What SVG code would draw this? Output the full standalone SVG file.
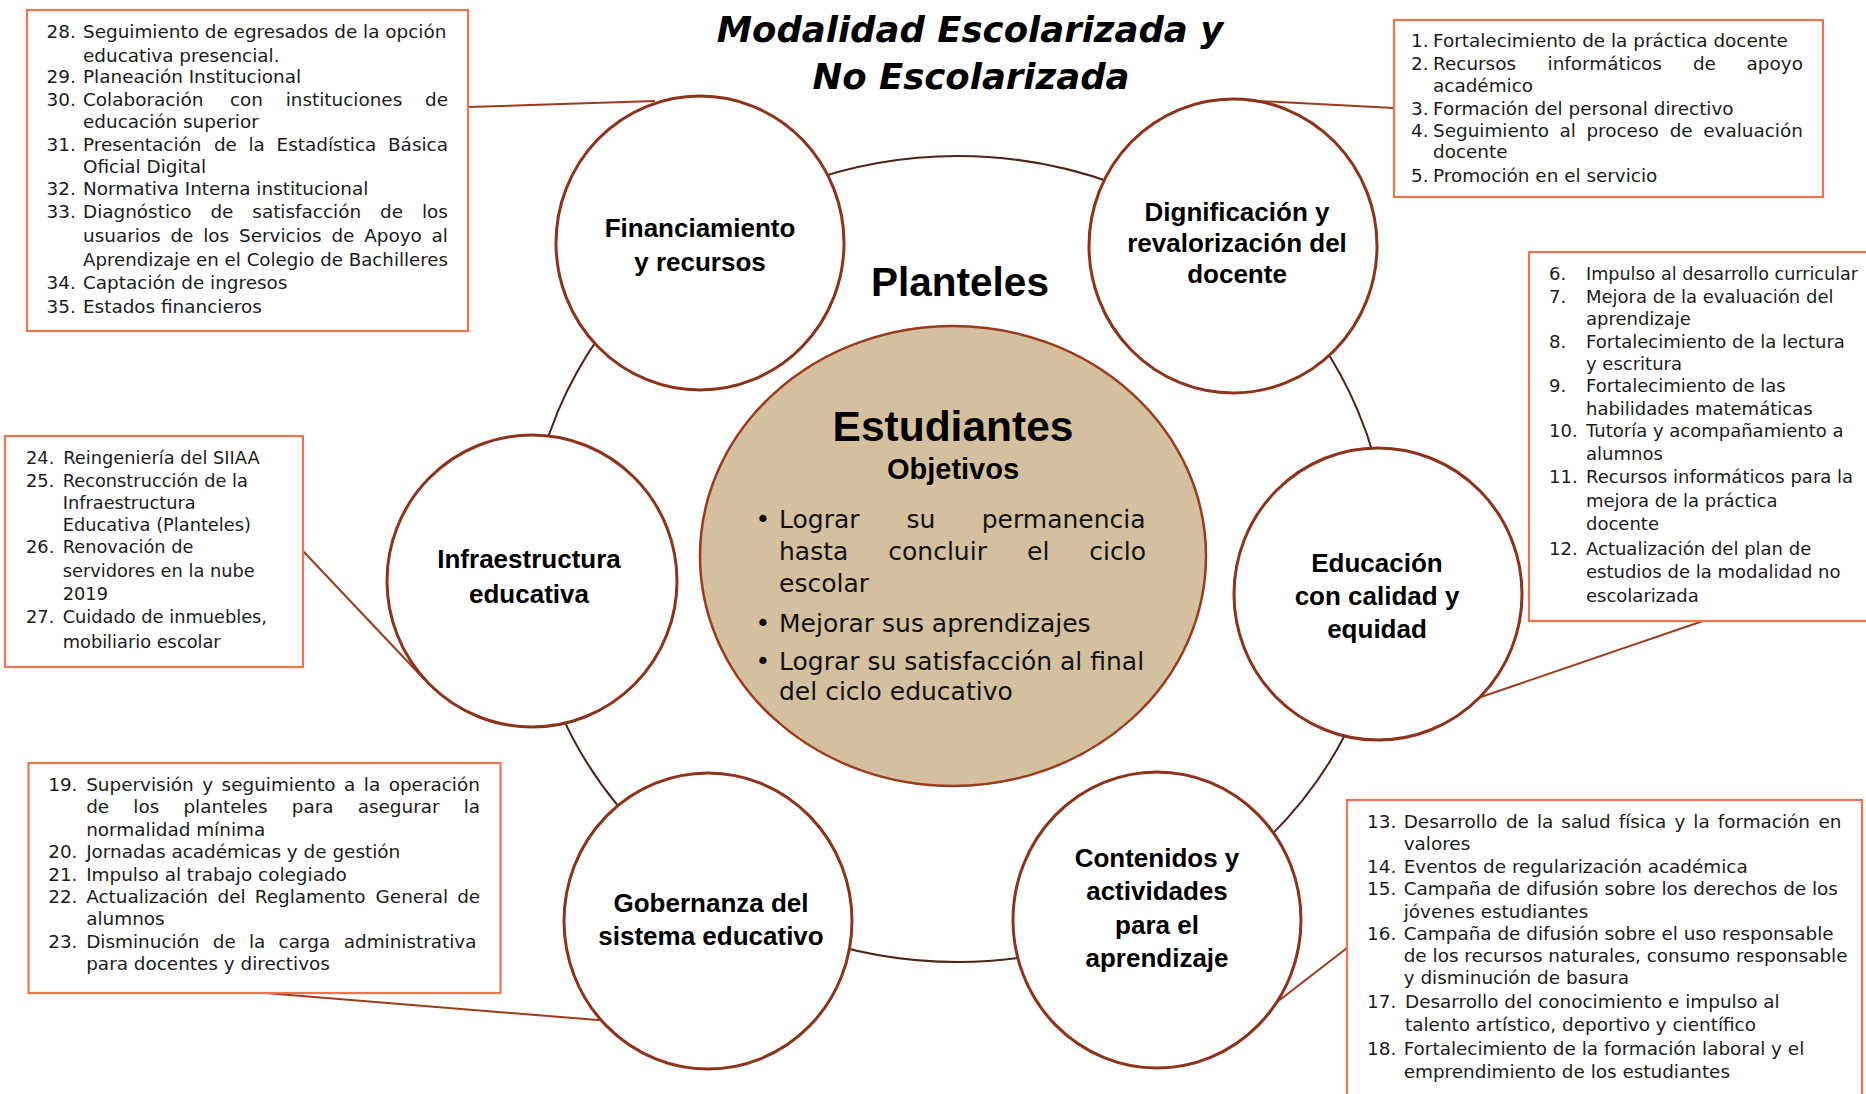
<svg xmlns="http://www.w3.org/2000/svg" width="1866" height="1094" viewBox="0 0 1866 1094">
<style>
.box{fill:#fff;stroke:#EE7450;stroke-width:2.2}
.node{fill:#fff;stroke:#8E3219;stroke-width:3}
.core{fill:#D4C09E;stroke:#9C3A1C;stroke-width:2.5}
.ring{fill:none;stroke:#4E2316;stroke-width:2}
.conn{fill:none;stroke:#9E3B1D;stroke-width:2}
.t{font-family:"DejaVu Sans",sans-serif;font-size:18.4px;fill:#1b1b1b}
.t18{font-size:18px}
.t178{font-size:17.8px}
.lbl{font-family:"Liberation Sans",Arial,sans-serif;font-weight:bold;font-size:26px;text-anchor:middle;fill:#000}
.ttl{font-family:"DejaVu Sans",sans-serif;font-weight:bold;font-style:italic;font-size:35.5px;text-anchor:middle;fill:#000}
.ctr{font-family:"DejaVu Sans",sans-serif;font-size:25px;fill:#111}
</style>
<rect width="1866" height="1094" fill="#fff"/>
<g id="title">
<text class="ttl" x="970" y="42">Modalidad Escolarizada y</text>
<text class="ttl" x="971" y="89">No Escolarizada</text>
</g>
<g id="ring"><ellipse class="ring" cx="958" cy="559" rx="430" ry="403"/></g>
<g id="connectors">
<line class="conn" x1="468" y1="107" x2="655" y2="101"/>
<line class="conn" x1="1240" y1="100" x2="1394" y2="108"/>
<line class="conn" x1="303" y1="551" x2="424" y2="679"/>
<line class="conn" x1="1703" y1="621" x2="1478" y2="698"/>
<line class="conn" x1="265" y1="993" x2="610" y2="1021"/>
<line class="conn" x1="1347" y1="948" x2="1268" y2="1009"/>
</g>
<g id="planteles-label"><text class="lbl" x="960" y="296" style="font-size:40.5px">Planteles</text></g>
<g id="node-financiamiento">
<ellipse class="node" cx="700" cy="243" rx="144" ry="147"/>
<text class="lbl" x="700" y="237">Financiamiento</text>
<text class="lbl" x="700" y="271">y recursos</text>
</g>
<g id="node-dignificacion">
<ellipse class="node" cx="1233" cy="246" rx="144" ry="147"/>
<text class="lbl" x="1237" y="221">Dignificación y</text>
<text class="lbl" x="1237" y="252">revalorización del</text>
<text class="lbl" x="1237" y="283">docente</text>
</g>
<g id="node-infraestructura">
<ellipse class="node" cx="532" cy="581" rx="145" ry="146"/>
<text class="lbl" x="529" y="568">Infraestructura</text>
<text class="lbl" x="529" y="603">educativa</text>
</g>
<g id="node-educacion">
<ellipse class="node" cx="1378" cy="594" rx="144" ry="146"/>
<text class="lbl" x="1377" y="572">Educación</text>
<text class="lbl" x="1377" y="605">con calidad y</text>
<text class="lbl" x="1377" y="638">equidad</text>
</g>
<g id="node-gobernanza">
<ellipse class="node" cx="708" cy="921" rx="144" ry="148"/>
<text class="lbl" x="711" y="912">Gobernanza del</text>
<text class="lbl" x="711" y="945">sistema educativo</text>
</g>
<g id="node-contenidos">
<ellipse class="node" cx="1157" cy="920" rx="144" ry="148"/>
<text class="lbl" x="1157" y="867">Contenidos y</text>
<text class="lbl" x="1157" y="900">actividades</text>
<text class="lbl" x="1157" y="934">para el</text>
<text class="lbl" x="1157" y="967">aprendizaje</text>
</g>
<g id="node-estudiantes">
<ellipse class="core" cx="953" cy="556" rx="253" ry="230"/>
<text class="lbl" x="953" y="441" style="font-size:42.5px">Estudiantes</text>
<text class="lbl" x="953" y="479" style="font-size:29px">Objetivos</text>
<text class="ctr"><tspan x="755.5" y="528">•</tspan><tspan x="779">Lograr</tspan><tspan x="906.4">su</tspan><tspan x="981.7">permanencia</tspan></text>
<text class="ctr"><tspan x="779" y="560">hasta</tspan><tspan x="888.3">concluir</tspan><tspan x="1027">el</tspan><tspan x="1089.3">ciclo</tspan></text>
<text class="ctr" x="779" y="592">escolar</text>
<text class="ctr"><tspan x="755.5" y="632">•</tspan><tspan x="779">Mejorar sus aprendizajes</tspan></text>
<text class="ctr"><tspan x="755.5" y="670">•</tspan><tspan x="779">Lograr su satisfacción al final</tspan></text>
<text class="ctr" x="779" y="700">del ciclo educativo</text>
</g>
<g id="box-28-35">
<rect class="box" x="27" y="10" width="441" height="321"/>
<text class="t">
<tspan x="46.6" y="38.3">28.</tspan><tspan x="83">Seguimiento de egresados de la opción</tspan>
<tspan x="83" y="61.7">educativa presencial.</tspan>
<tspan x="46.6" y="83.3">29.</tspan><tspan x="83">Planeación Institucional</tspan>
<tspan x="46.6" y="106">30.</tspan><tspan x="83">Colaboración</tspan><tspan x="229.9">con</tspan><tspan x="285.7">instituciones</tspan><tspan x="425.1">de</tspan>
<tspan x="83" y="128.3">educación superior</tspan>
<tspan x="46.6" y="151">31.</tspan><tspan x="83">Presentación</tspan><tspan x="213.9">de</tspan><tspan x="248.5">la</tspan><tspan x="276.6">Estadística</tspan><tspan x="388">Básica</tspan>
<tspan x="83" y="173.3">Oficial Digital</tspan>
<tspan x="46.6" y="195">32.</tspan><tspan x="83">Normativa Interna institucional</tspan>
<tspan x="46.6" y="218.3">33.</tspan><tspan x="83">Diagnóstico</tspan><tspan x="210.4">de</tspan><tspan x="252.3">satisfacción</tspan><tspan x="380">de</tspan><tspan x="421.9">los</tspan>
<tspan x="83" y="241.7">usuarios</tspan><tspan x="170.4">de</tspan><tspan x="203.2">los</tspan><tspan x="239">Servicios</tspan><tspan x="331.4">de</tspan><tspan x="364.2">Apoyo</tspan><tspan x="431.6">al</tspan>
<tspan x="46.6" y="288.7">34.</tspan><tspan x="83">Captación de ingresos</tspan>
<tspan x="46.6" y="312.7">35.</tspan><tspan x="83">Estados financieros</tspan>
</text>
<text class="t" x="83" y="265.7" textLength="365" lengthAdjust="spacingAndGlyphs">Aprendizaje en el Colegio de Bachilleres</text>
</g>
<g id="box-1-5">
<rect class="box" x="1394" y="20" width="429" height="177"/>
<text class="t">
<tspan x="1411" y="46.7">1.</tspan><tspan x="1433">Fortalecimiento de la práctica docente</tspan>
<tspan x="1411" y="70">2.</tspan><tspan x="1433">Recursos</tspan><tspan x="1547.6">informáticos</tspan><tspan x="1692.9">de</tspan><tspan x="1746.6">apoyo</tspan>
<tspan x="1433" y="91.7">académico</tspan>
<tspan x="1411" y="115">3.</tspan><tspan x="1433">Formación del personal directivo</tspan>
<tspan x="1411" y="136.7">4.</tspan><tspan x="1433">Seguimiento</tspan><tspan x="1559.5">al</tspan><tspan x="1586.4">proceso</tspan><tspan x="1669.7">de</tspan><tspan x="1703.2">evaluación</tspan>
<tspan x="1433" y="158.3">docente</tspan>
<tspan x="1411" y="181.7">5.</tspan><tspan x="1433">Promoción en el servicio</tspan>
</text>
</g>
<g id="box-6-12">
<rect class="box" x="1529" y="252" width="345" height="369"/>
<text class="t t18" x="1549" y="280">6.</text>
<text class="t t18" x="1586" y="280" textLength="272" lengthAdjust="spacingAndGlyphs">Impulso al desarrollo curricular</text>
<text class="t t18">
<tspan x="1549" y="303.3">7.</tspan><tspan x="1586">Mejora de la evaluación del</tspan>
<tspan x="1586" y="325">aprendizaje</tspan>
<tspan x="1549" y="348.3">8.</tspan><tspan x="1586">Fortalecimiento de la lectura</tspan>
<tspan x="1586" y="370">y escritura</tspan>
<tspan x="1549" y="391.7">9.</tspan><tspan x="1586">Fortalecimiento de las</tspan>
<tspan x="1586" y="415">habilidades matemáticas</tspan>
<tspan x="1549" y="437.3">10.</tspan><tspan x="1586">Tutoría y acompañamiento a</tspan>
<tspan x="1586" y="460">alumnos</tspan>
<tspan x="1549" y="482.7">11.</tspan><tspan x="1586">Recursos informáticos para la</tspan>
<tspan x="1586" y="506.7">mejora de la práctica</tspan>
<tspan x="1586" y="530">docente</tspan>
<tspan x="1549" y="555">12.</tspan><tspan x="1586">Actualización del plan de</tspan>
<tspan x="1586" y="578.3">estudios de la modalidad no</tspan>
<tspan x="1586" y="601.7">escolarizada</tspan>
</text>
</g>
<g id="box-24-27">
<rect class="box" x="5" y="436" width="298" height="231"/>
<text class="t t178">
<tspan x="26" y="464.3">24.</tspan><tspan x="63.3">Reingeniería del SIIAA</tspan>
<tspan x="26" y="486.7">25.</tspan><tspan x="62.7">Reconstrucción de la</tspan>
<tspan x="62.7" y="509.3">Infraestructura</tspan>
<tspan x="62.7" y="531">Educativa (Planteles)</tspan>
<tspan x="26" y="553.3">26.</tspan><tspan x="62.7">Renovación de</tspan>
<tspan x="62.7" y="576.7">servidores en la nube</tspan>
<tspan x="62.7" y="600">2019</tspan>
<tspan x="26" y="623.3">27.</tspan><tspan x="62.7">Cuidado de inmuebles,</tspan>
<tspan x="62.7" y="648.3">mobiliario escolar</tspan>
</text>
</g>
<g id="box-19-23">
<rect class="box" x="28.5" y="763" width="472" height="230"/>
<text class="t">
<tspan x="48.2" y="791">19.</tspan><tspan x="86.2">Supervisión</tspan><tspan x="202.2">y</tspan><tspan x="221.6">seguimiento</tspan><tspan x="344">a</tspan><tspan x="363.8">la</tspan><tspan x="388.7">operación</tspan>
<tspan x="86.2" y="813.3">de</tspan><tspan x="133.3">los</tspan><tspan x="183.4">planteles</tspan><tspan x="291.8">para</tspan><tspan x="357.7">asegurar</tspan><tspan x="463.7">la</tspan>
<tspan x="86.2" y="836">normalidad mínima</tspan>
<tspan x="48.2" y="858.3">20.</tspan><tspan x="86.2">Jornadas académicas y de gestión</tspan>
<tspan x="48.2" y="881">21.</tspan><tspan x="86.2">Impulso al trabajo colegiado</tspan>
<tspan x="48.2" y="903.3">22.</tspan><tspan x="86.2">Actualización</tspan><tspan x="217.6">del</tspan><tspan x="254.8">Reglamento</tspan><tspan x="375.6">General</tspan><tspan x="457.2">de</tspan>
<tspan x="86.2" y="925">alumnos</tspan>
<tspan x="48.2" y="948.3">23.</tspan><tspan x="86.2">Disminución</tspan><tspan x="212.8">de</tspan><tspan x="249">la</tspan><tspan x="278.6">carga</tspan><tspan x="343.7">administrativa</tspan>
<tspan x="86.2" y="970">para docentes y directivos</tspan>
</text>
</g>
<g id="box-13-18">
<rect class="box" x="1347" y="800" width="515" height="300"/>
<text class="t">
<tspan x="1367" y="828.3">13.</tspan><tspan x="1403.7">Desarrollo</tspan><tspan x="1505.9">de</tspan><tspan x="1536.9">la</tspan><tspan x="1561.3">salud</tspan><tspan x="1618.7">física</tspan><tspan x="1674.4">y</tspan><tspan x="1693.3">la</tspan><tspan x="1717.7">formación</tspan><tspan x="1818.4">en</tspan>
<tspan x="1403.7" y="850">valores</tspan>
<tspan x="1367" y="873.3">14.</tspan><tspan x="1403.7">Eventos de regularización académica</tspan>
<tspan x="1367" y="895">15.</tspan><tspan x="1403.7">Campaña de difusión sobre los derechos de los</tspan>
<tspan x="1403.7" y="917.7">jóvenes estudiantes</tspan>
<tspan x="1367" y="940">16.</tspan><tspan x="1403.7">Campaña de difusión sobre el uso responsable</tspan>
<tspan x="1403.7" y="962.3">de los recursos naturales, consumo responsable</tspan>
<tspan x="1403.7" y="984.3">y disminución de basura</tspan>
<tspan x="1367" y="1007.7">17.</tspan><tspan x="1405">Desarrollo del conocimiento e impulso al</tspan>
<tspan x="1405" y="1030.7">talento artístico, deportivo y científico</tspan>
<tspan x="1367" y="1055">18.</tspan><tspan x="1403.7">Fortalecimiento de la formación laboral y el</tspan>
<tspan x="1403.7" y="1078.3">emprendimiento de los estudiantes</tspan>
</text>
</g>
</svg>
